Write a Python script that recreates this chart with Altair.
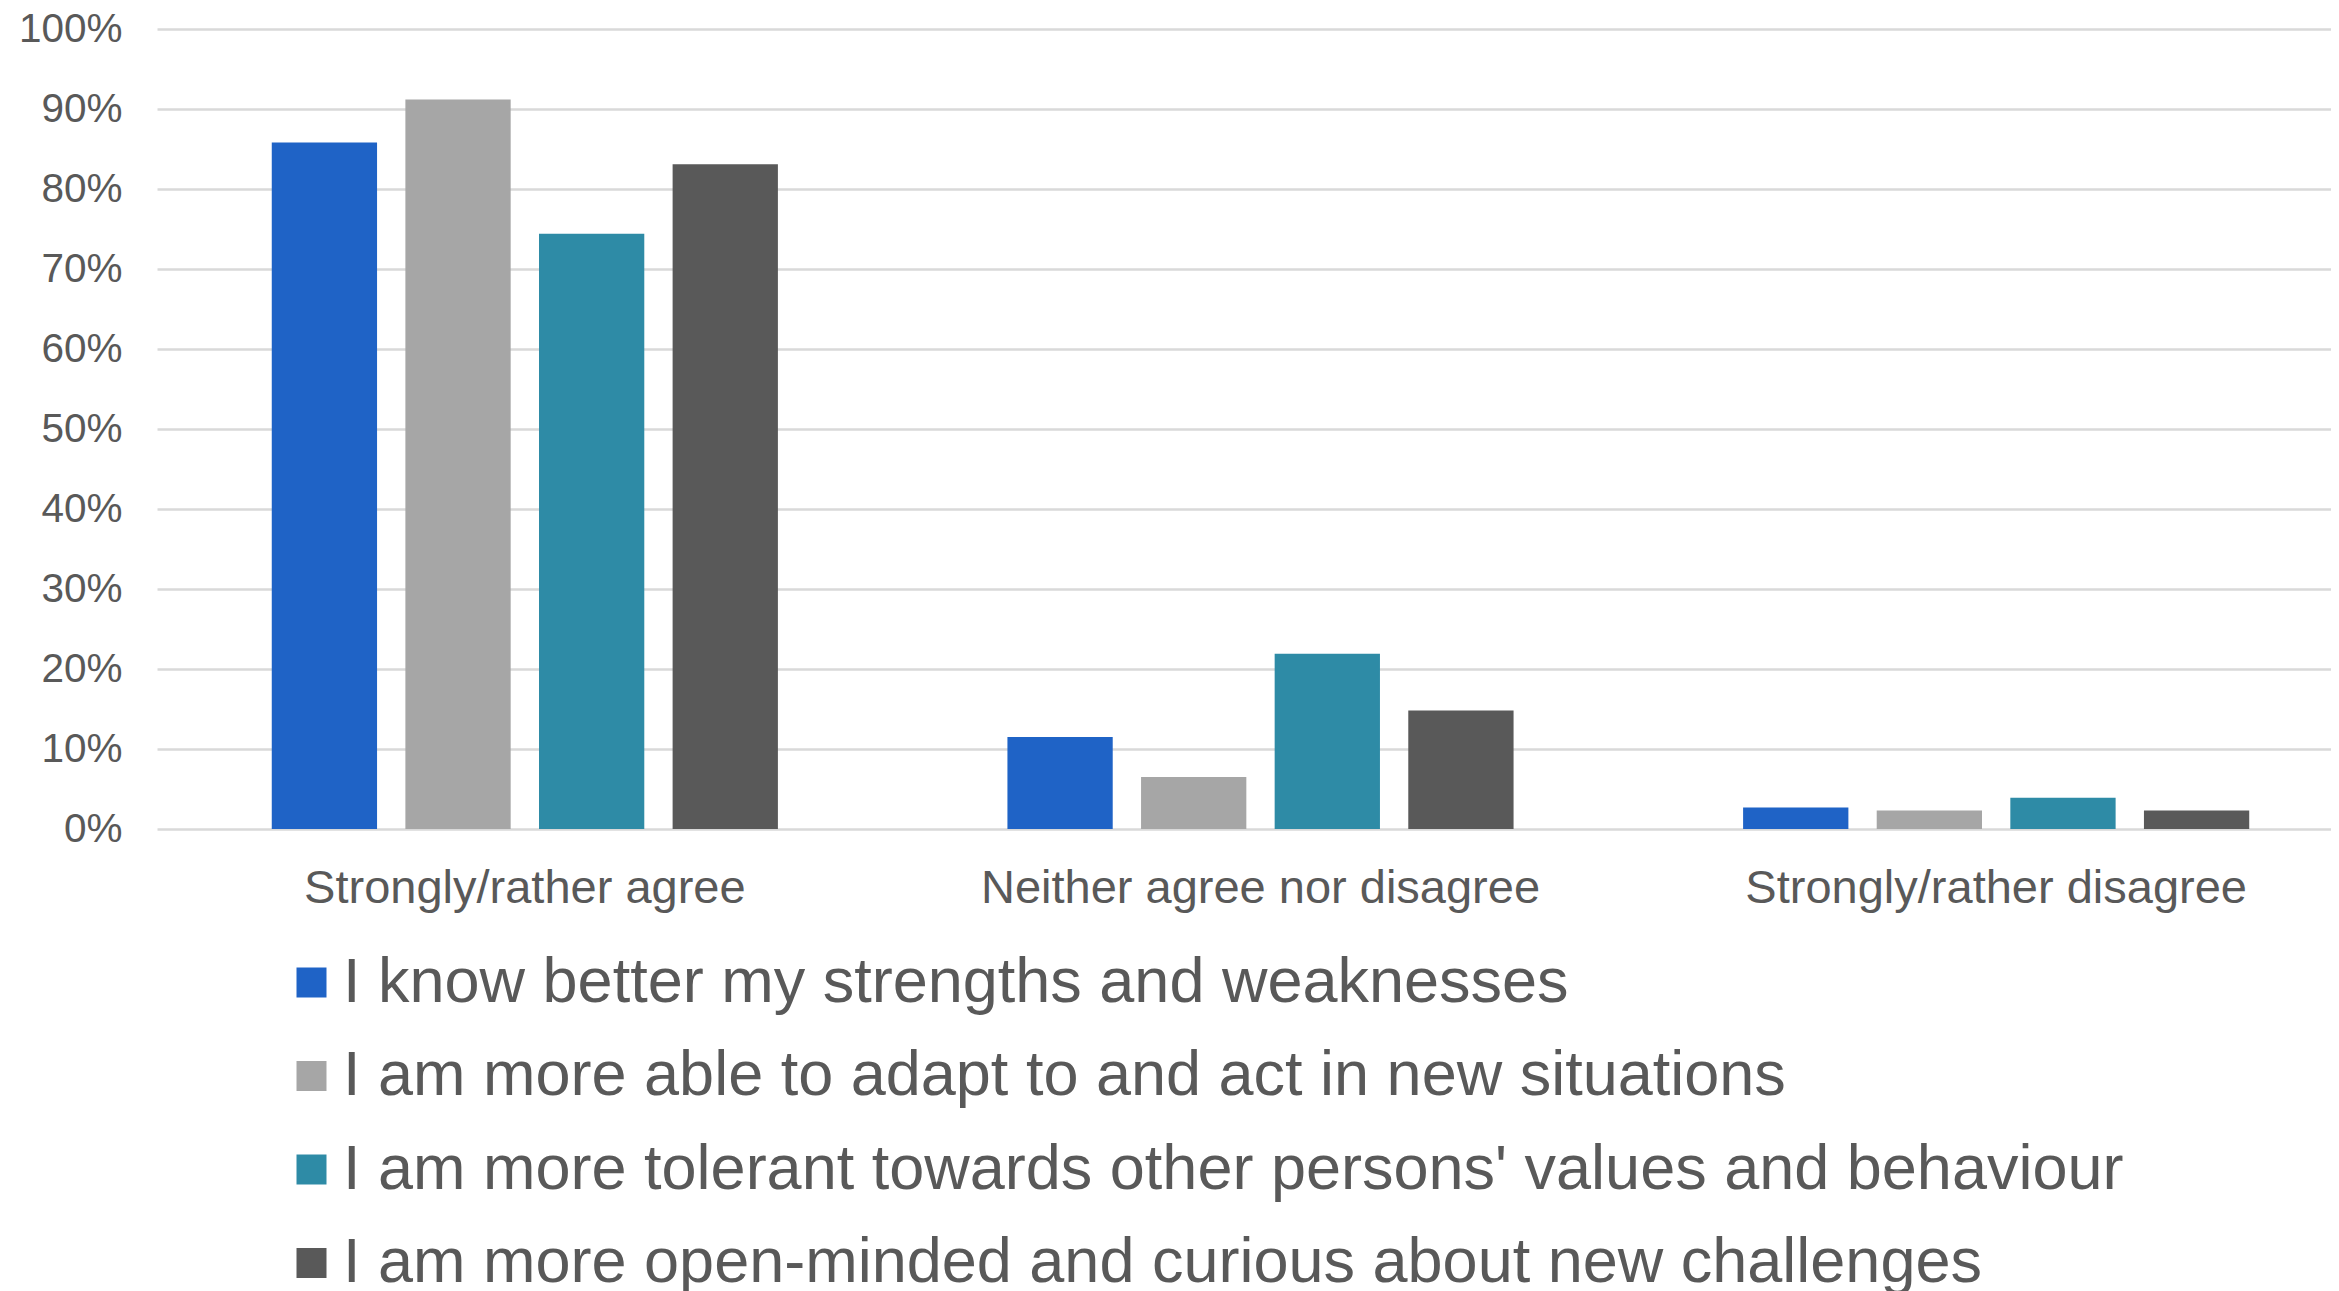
import altair as alt
import pandas as pd

categories = ["Strongly/rather agree", "Neither agree nor disagree", "Strongly/rather disagree"]
series = [
    "I know better my strengths and weaknesses",
    "I am more able to adapt to and act in new situations",
    "I am more tolerant towards other persons' values and behaviour",
    "I am more open-minded and curious about new challenges",
]
strengths = [0.858, 0.115, 0.027]
adapt = [0.912, 0.065, 0.023]
tolerant = [0.744, 0.219, 0.039]
openminded = [0.831, 0.148, 0.023]
colors = ["#1F63C6", "#A6A6A6", "#2E8BA6", "#595959"]
y_ticks = [0, 0.1, 0.2, 0.3, 0.4, 0.5, 0.6, 0.7, 0.8, 0.9, 1.0]

rows = []
for s, vals in zip(series, [strengths, adapt, tolerant, openminded]):
    for c, v in zip(categories, vals):
        rows.append({"category": c, "series": s, "value": v})
df = pd.DataFrame(rows)

FONT = "Liberation Sans"
TXT = "#595959"

chart = alt.Chart(df).mark_bar().encode(
    x=alt.X(
        "category:N",
        sort=categories,
        scale=alt.Scale(range=[0, 2207], paddingInner=0.312, paddingOuter=0.156),
        axis=alt.Axis(
            title=None, labelAngle=0, labelFontSize=47, labelColor=TXT, labelFont=FONT,
            labelPadding=36, domain=False, ticks=False, grid=False, labelLimit=1000,
        ),
    ),
    xOffset=alt.XOffset("series:N", sort=series, scale=alt.Scale(paddingInner=0.212, paddingOuter=0)),
    y=alt.Y(
        "value:Q",
        scale=alt.Scale(domain=[0, 1]),
        axis=alt.Axis(
            title=None, format=".0%", values=y_ticks, labelFontSize=40.5, labelColor=TXT,
            labelFont=FONT, labelPadding=35, domain=False, ticks=False, tickSize=0,
            gridColor="#D9D9D9", gridWidth=2.5,
        ),
    ),
    color=alt.Color(
        "series:N",
        sort=series,
        scale=alt.Scale(domain=series, range=colors),
        legend=alt.Legend(
            title=None, orient="none", legendX=123, legendY=922, direction="vertical",
            symbolType="square", symbolSize=900, symbolStrokeWidth=0,
            labelFontSize=63, labelColor=TXT, labelFont=FONT, labelOffset=0,
            rowPadding=29.5, labelLimit=3000, padding=0,
        ),
    ),
).properties(
    width=2174,
    height=800,
    autosize=alt.AutoSizeParams(type="none"),
    padding={"left": 149, "top": 21, "right": 0, "bottom": 470},
).configure_view(stroke=None)

chart.save("out.html", embed_options={"renderer": "svg", "actions": False})
